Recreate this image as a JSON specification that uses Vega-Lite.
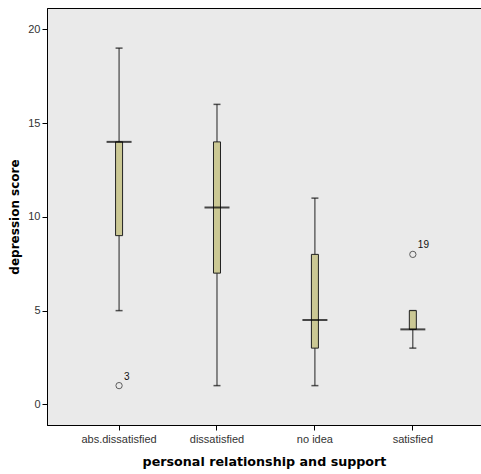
{
  "$schema": "https://vega.github.io/schema/vega-lite/v6.json",
  "autosize": {"type": "none"},
  "padding": {"left": 47, "top": 8, "right": 0, "bottom": 49},
  "width": 434,
  "height": 417,
  "background": "#ffffff",
  "config": {
    "view": {"fill": "#eaeaea", "stroke": "#000000", "strokeWidth": 1},
    "axis": {
      "labelFont": "Liberation Sans",
      "labelFontSize": 11,
      "labelColor": "#333333",
      "titleFont": "DejaVu Sans",
      "titleFontWeight": "bold",
      "titleFontSize": 12,
      "titleColor": "#000000",
      "tickColor": "#000000",
      "domainColor": "#000000",
      "tickSize": 5,
      "grid": false
    }
  },
  "datasets": {
    "boxes": [
      {"group": "abs.dissatisfied", "lo": 5, "q1": 9, "med": 14, "q3": 14, "hi": 19},
      {"group": "dissatisfied", "lo": 1, "q1": 7, "med": 10.5, "q3": 14, "hi": 16},
      {"group": "no idea", "lo": 1, "q1": 3, "med": 4.5, "q3": 8, "hi": 11},
      {"group": "satisfied", "lo": 3, "q1": 4, "med": 4, "q3": 5, "hi": 5}
    ],
    "outliers": [
      {"group": "abs.dissatisfied", "value": 1, "case": "3"},
      {"group": "satisfied", "value": 8, "case": "19"}
    ]
  },
  "encoding": {
    "x": {
      "field": "group",
      "type": "nominal",
      "sort": ["abs.dissatisfied", "dissatisfied", "no idea", "satisfied"],
      "scale": {"paddingInner": 0.9, "paddingOuter": 0.666, "align": 0.515},
      "axis": {"title": "personal relationship and support", "labelAngle": 0, "titlePadding": 11, "labelPadding": 3, "titleFontSize": 12.7}
    }
  },
  "layer": [
    {
      "data": {"name": "boxes"},
      "mark": {"type": "rule", "color": "#222222", "strokeWidth": 1},
      "encoding": {
        "y": {
          "field": "lo",
          "type": "quantitative",
          "scale": {"domain": [-1.1, 21.14], "nice": false, "zero": false},
          "axis": {"title": "depression score", "values": [0, 5, 10, 15, 20], "titlePadding": 6, "labelPadding": 2}
        },
        "y2": {"field": "hi"}
      }
    },
    {
      "data": {"name": "boxes"},
      "mark": {"type": "tick", "color": "#111111", "size": 7, "thickness": 1.5},
      "encoding": {"y": {"field": "hi", "type": "quantitative"}}
    },
    {
      "data": {"name": "boxes"},
      "mark": {"type": "tick", "color": "#111111", "size": 7, "thickness": 1.5},
      "encoding": {"y": {"field": "lo", "type": "quantitative"}}
    },
    {
      "data": {"name": "boxes"},
      "mark": {"type": "bar", "width": 7, "fill": "#cbc894", "stroke": "#222222", "strokeWidth": 1},
      "encoding": {
        "y": {"field": "q1", "type": "quantitative"},
        "y2": {"field": "q3"}
      }
    },
    {
      "data": {"name": "boxes"},
      "mark": {"type": "tick", "color": "#000000", "size": 25, "thickness": 2},
      "encoding": {"y": {"field": "med", "type": "quantitative"}}
    },
    {
      "data": {"name": "outliers"},
      "mark": {"type": "point", "shape": "circle", "size": 40, "filled": false, "stroke": "#222222", "strokeWidth": 1},
      "encoding": {"y": {"field": "value", "type": "quantitative"}}
    },
    {
      "data": {"name": "outliers"},
      "mark": {"type": "text", "align": "left", "baseline": "middle", "dx": 5, "dy": -9, "font": "Liberation Sans", "fontSize": 10, "color": "#111111"},
      "encoding": {
        "y": {"field": "value", "type": "quantitative"},
        "text": {"field": "case"}
      }
    }
  ]
}
